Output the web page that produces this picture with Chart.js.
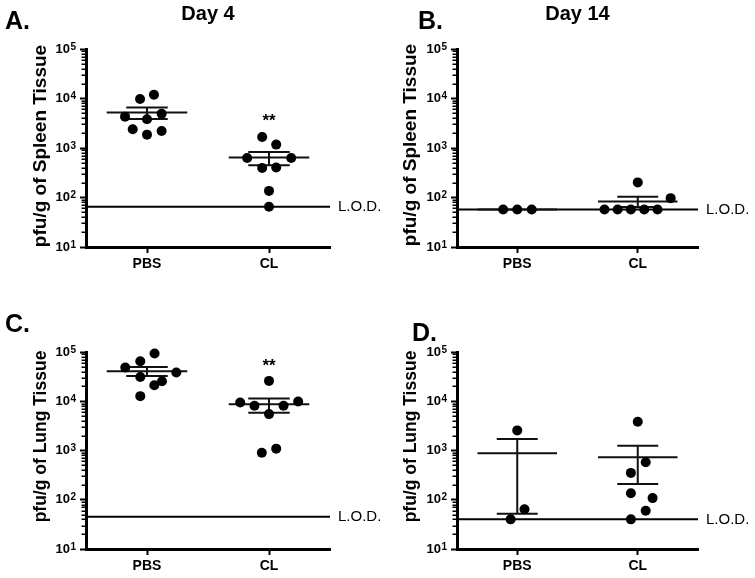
<!DOCTYPE html>
<html><head><meta charset="utf-8">
<script src="https://cdn.jsdelivr.net/npm/chart.js@4/dist/chart.umd.min.js"></script>
<style>
html,body{margin:0;padding:0;background:#fff;}
#wrap{position:relative;width:755px;height:578px;overflow:hidden;}
canvas{position:absolute;}
</style></head><body>
<div id="wrap">
<canvas id="cA" width="395" height="290" style="left:0;top:0"></canvas>
<canvas id="cB" width="378" height="290" style="left:377px;top:0"></canvas>
<canvas id="cC" width="395" height="288" style="left:0;top:290px"></canvas>
<canvas id="cD" width="378" height="288" style="left:377px;top:290px"></canvas>
</div>
<script>
// ---------------- data ----------------
const categories = ['PBS', 'CL'];
const yTickValues = [10, 100, 1000, 10000, 100000];
const yTickBase = '10';
const yTickExponents = ['1', '2', '3', '4', '5'];

// Panel A: spleen, day 4
const spleenD4_PBS = [9800, 11900, 4900, 3800, 2400, 1860, 2200, 4300];
const spleenD4_PBS_jitter = [-0.057, 0.057, 0.12, 0, -0.117, 0, 0.12, -0.18];
const spleenD4_CL = [1670, 1170, 630, 630, 395, 405, 136, 65];
const spleenD4_CL_jitter = [-0.056, 0.059, -0.179, 0.182, -0.056, 0.059, 0, 0];
const spleenD4_mean = [5190, 640];
const spleenD4_semHi = [6560, 830];
const spleenD4_semLo = [3870, 450];
const spleenD4_lod = 65;
const spleenD4_sig = [null, 4450];

// Panel B: spleen, day 14
const spleenD14_PBS = [57, 57, 57];
const spleenD14_PBS_jitter = [-0.117, 0, 0.12];
const spleenD14_CL = [57, 57, 57, 57, 57, 202, 97];
const spleenD14_CL_jitter = [-0.276, -0.167, -0.057, 0.054, 0.164, 0, 0.273];
const spleenD14_mean = [57, 83];
const spleenD14_semHi = [57, 103];
const spleenD14_semLo = [57, 64];
const spleenD14_lod = 57;
const spleenD14_sig = [null, null];

// Panel C: lung, day 4
const lungD4_PBS = [92900, 64800, 48300, 38300, 31200, 25500, 21200, 12700];
const lungD4_PBS_jitter = [0.062, -0.055, -0.178, 0.24, -0.055, 0.123, 0.06, -0.055];
const lungD4_CL = [25900, 9460, 8080, 8080, 9900, 5480, 900, 1090];
const lungD4_CL_jitter = [0, -0.236, -0.119, 0.119, 0.239, 0, -0.059, 0.059];
const lungD4_mean = [40600, 8730];
const lungD4_semHi = [49600, 11400];
const lungD4_semLo = [32700, 5820];
const lungD4_lod = 45;
const lungD4_sig = [null, 64900];

// Panel D: lung, day 14
const lungD14_PBS = [2560, 64, 40];
const lungD14_PBS_jitter = [0, 0.06, -0.055];
const lungD14_CL = [3830, 577, 351, 136, 108, 60, 40];
const lungD14_CL_jitter = [0, 0.066, -0.057, -0.057, 0.123, 0.066, -0.057];
const lungD14_mean = [880, 730];
const lungD14_semHi = [1710, 1250];
const lungD14_semLo = [52, 210];
const lungD14_lod = 40;
const lungD14_sig = [null, null];

// ---------------- layout / style ----------------
const FONT = "'Liberation Sans', Arial, Helvetica, sans-serif";
const X_MIN = 0.5, X_MAX = 2.5;
const MEAN_HALF = 0.33, CAP_HALF = 0.17;
const Y_TICK_LEN = 6, Y_TICK_PAD = 10;

const panels = [
  {id:'cA', W:395, H:290, area:{left:86, top:49, right:330, bottom:247},
   letter:'A.', letterPos:[5, 28.5], title:'Day 4', titleY:20,
   yTitle:'pfu/g of Spleen Tissue', yTitleSize:19, yTitlePos:[41, 146],
   groups:[spleenD4_PBS, spleenD4_CL], jit:[spleenD4_PBS_jitter, spleenD4_CL_jitter],
   mean:spleenD4_mean, hi:spleenD4_semHi, lo:spleenD4_semLo, lod:spleenD4_lod, sig:spleenD4_sig},
  {id:'cB', W:378, H:290, area:{left:80, top:49, right:321, bottom:247},
   letter:'B.', letterPos:[41, 28.5], title:'Day 14', titleY:20,
   yTitle:'pfu/g of Spleen Tissue', yTitleSize:19, yTitlePos:[34, 145],
   groups:[spleenD14_PBS, spleenD14_CL], jit:[spleenD14_PBS_jitter, spleenD14_CL_jitter],
   mean:spleenD14_mean, hi:spleenD14_semHi, lo:spleenD14_semLo, lod:spleenD14_lod, sig:spleenD14_sig},
  {id:'cC', W:395, H:288, area:{left:86, top:62, right:330, bottom:259},
   letter:'C.', letterPos:[5, 41.7], title:null,
   yTitle:'pfu/g of Lung Tissue', yTitleSize:17.5, yTitlePos:[41.5, 146.5],
   groups:[lungD4_PBS, lungD4_CL], jit:[lungD4_PBS_jitter, lungD4_CL_jitter],
   mean:lungD4_mean, hi:lungD4_semHi, lo:lungD4_semLo, lod:lungD4_lod, sig:lungD4_sig},
  {id:'cD', W:378, H:288, area:{left:80, top:62, right:321, bottom:259},
   letter:'D.', letterPos:[35, 51], title:null,
   yTitle:'pfu/g of Lung Tissue', yTitleSize:17.5, yTitlePos:[34.5, 146.5],
   groups:[lungD14_PBS, lungD14_CL], jit:[lungD14_PBS_jitter, lungD14_CL_jitter],
   mean:lungD14_mean, hi:lungD14_semHi, lo:lungD14_semLo, lod:lungD14_lod, sig:lungD14_sig}
];

function buildChart(p) {
  const pts = [];
  p.groups.forEach((vals, gi) => vals.forEach((v, k) => pts.push({x: gi + 1 + p.jit[gi][k], y: v})));
  const seg = [];
  p.mean.forEach((m, gi) => {
    const c = gi + 1;
    seg.push({x:c-MEAN_HALF, y:m}, {x:c+MEAN_HALF, y:m}, {x:c, y:null});
    seg.push({x:c-CAP_HALF, y:p.hi[gi]}, {x:c+CAP_HALF, y:p.hi[gi]}, {x:c, y:null});
    seg.push({x:c-CAP_HALF, y:p.lo[gi]}, {x:c+CAP_HALF, y:p.lo[gi]}, {x:c, y:null});
    seg.push({x:c, y:p.lo[gi]}, {x:c, y:p.hi[gi]}, {x:c, y:null});
  });
  const lodLine = [{x:X_MIN, y:p.lod}, {x:X_MAX, y:p.lod}];

  const decor = {
    id: 'decor',
    afterDraw(chart) {
      const ctx = chart.ctx, ca = chart.chartArea, sx = chart.scales.x, sy = chart.scales.y;
      ctx.save();
      // minor ticks on y axis
      ctx.strokeStyle = '#000'; ctx.lineWidth = 1.5;
      sy.ticks.forEach(t => {
        if (t.major) return;
        const y = Math.round(sy.getPixelForValue(t.value)) + 0.25;
        ctx.beginPath(); ctx.moveTo(sy.right - 4.5, y); ctx.lineTo(sy.right, y); ctx.stroke();
      });
      ctx.fillStyle = '#000';
      // exponents of the y tick labels
      ctx.font = 'bold 10px ' + FONT; ctx.textAlign = 'left'; ctx.textBaseline = 'alphabetic';
      yTickValues.forEach((v, i) => {
        const y = sy.getPixelForValue(v);
        ctx.fillText(yTickExponents[i], sy.right - Y_TICK_LEN - Y_TICK_PAD + 0.5, y + 0.5);
      });
      // panel letter
      ctx.font = 'bold 25px ' + FONT; ctx.textAlign = 'left'; ctx.textBaseline = 'alphabetic';
      ctx.fillText(p.letter, p.letterPos[0], p.letterPos[1]);
      // title
      if (p.title) {
        ctx.font = 'bold 20px ' + FONT; ctx.textAlign = 'center';
        ctx.fillText(p.title, (ca.left + ca.right) / 2, p.titleY);
      }
      // y-axis title
      ctx.save();
      ctx.translate(p.yTitlePos[0], p.yTitlePos[1]); ctx.rotate(-Math.PI / 2);
      ctx.font = 'bold ' + p.yTitleSize + 'px ' + FONT; ctx.textAlign = 'center'; ctx.textBaseline = 'middle';
      ctx.fillText(p.yTitle, 0, 0);
      ctx.restore();
      // LOD label
      ctx.font = '15px ' + FONT; ctx.textAlign = 'left'; ctx.textBaseline = 'middle';
      ctx.fillText('L.O.D.', ca.right + 8, sy.getPixelForValue(p.lod) + 0.5);
      // significance
      ctx.font = 'bold 17px ' + FONT; ctx.textAlign = 'center'; ctx.textBaseline = 'alphabetic';
      p.sig.forEach((s, gi) => {
        if (s == null) return;
        ctx.fillText('**', sx.getPixelForValue(gi + 1), sy.getPixelForValue(s) + 0.57 * 17);
      });
      ctx.restore();
    }
  };

  return new Chart(document.getElementById(p.id), {
    type: 'scatter',
    data: { datasets: [
      {data: pts, pointRadius: 5, pointHoverRadius: 5, pointBackgroundColor: '#000', pointBorderWidth: 0, showLine: false, clip: false},
      {data: seg, showLine: true, pointRadius: 0, borderColor: '#111', borderWidth: 2, spanGaps: false, clip: false},
      {data: lodLine, showLine: true, pointRadius: 0, borderColor: '#000', borderWidth: 2, clip: false}
    ]},
    options: {
      responsive: false, animation: false, devicePixelRatio: 1,
      layout: { autoPadding: false, padding: {left: 0, top: p.area.top, right: p.W - p.area.right, bottom: 0} },
      plugins: { legend: {display: false}, tooltip: {enabled: false} },
      scales: {
        x: {
          type: 'linear', min: X_MIN, max: X_MAX, bounds: 'data',
          afterBuildTicks: s => { s.ticks = categories.map((c, i) => ({value: i + 1})); },
          afterFit: s => { s.height = p.H - p.area.bottom; },
          ticks: { autoSkip: false, maxRotation: 0, padding: 3, color: '#000',
                   font: {family: FONT, size: 14, weight: 'bold'},
                   callback: v => categories[Math.round(v) - 1] || '' },
          grid: { drawOnChartArea: false, drawTicks: true, tickLength: 6, tickWidth: 2, tickColor: '#000' },
          border: { display: true, width: 3, color: '#000' }
        },
        y: {
          type: 'logarithmic', min: 10, max: 100000, bounds: 'data',
          afterBuildTicks: s => {
            const t = [];
            for (let e = 0; e < yTickValues.length; e++) {
              const base = yTickValues[e];
              t.push({value: base, major: true});
              if (e < yTickValues.length - 1) for (let m = 2; m <= 9; m++) t.push({value: base * m, major: false});
            }
            s.ticks = t;
          },
          afterFit: s => { s.width = p.area.left; },
          ticks: { autoSkip: false, padding: Y_TICK_PAD, color: '#000',
                   font: {family: FONT, size: 13, weight: 'bold'},
                   callback: v => (yTickValues.indexOf(v) >= 0 ? yTickBase : '') },
          grid: { drawOnChartArea: false, drawTicks: true, tickLength: Y_TICK_LEN, tickWidth: 2,
                  tickColor: c => (c.tick && c.tick.major) ? '#000' : 'rgba(0,0,0,0)' },
          border: { display: true, width: 3, color: '#000' }
        }
      }
    },
    plugins: [decor]
  });
}
panels.forEach(buildChart);
</script>
</body></html>
